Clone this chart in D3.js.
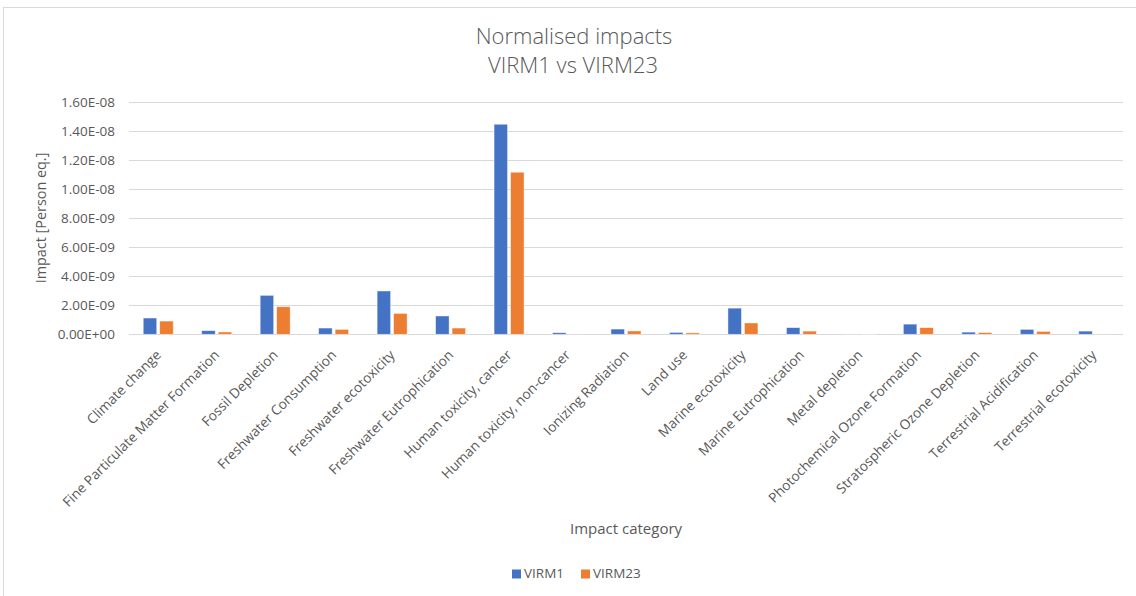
<!DOCTYPE html>
<html>
<head>
<meta charset="utf-8">
<script src="https://cdn.jsdelivr.net/npm/d3@7"></script>
<style>
  body { margin: 0; background: #fff; }
  text { font-family: "Open Sans", "Noto Sans", sans-serif; fill: #595959; }
</style>
</head>
<body>
<div id="chart"></div>
<script>
const categories = [
    'Climate change', 'Fine Particulate Matter Formation', 'Fossil Depletion',
    'Freshwater Consumption', 'Freshwater ecotoxicity', 'Freshwater Eutrophication',
    'Human toxicity, cancer', 'Human toxicity, non-cancer', 'Ionizing Radiation',
    'Land use', 'Marine ecotoxicity', 'Marine Eutrophication', 'Metal depletion',
    'Photochemical Ozone Formation', 'Stratospheric Ozone Depletion',
    'Terrestrial Acidification', 'Terrestrial ecotoxicity'
];
const seriesNames = ['VIRM1', 'VIRM23'];
const virm1 = [1.12e-9, 0.25e-9, 2.68e-9, 0.43e-9, 2.98e-9, 1.26e-9, 14.45e-9, 0.11e-9, 0.36e-9,
    0.13e-9, 1.80e-9, 0.46e-9, 0.01e-9, 0.70e-9, 0.15e-9, 0.34e-9, 0.22e-9];
const virm23 = [0.91e-9, 0.16e-9, 1.90e-9, 0.34e-9, 1.44e-9, 0.43e-9, 11.15e-9, 0.02e-9, 0.23e-9,
    0.10e-9, 0.78e-9, 0.22e-9, 0.005e-9, 0.46e-9, 0.12e-9, 0.20e-9, 0.02e-9];
const yTicks = [0, 2e-9, 4e-9, 6e-9, 8e-9, 1e-8, 1.2e-8, 1.4e-8, 1.6e-8];
const colors = ['#4472c4', '#ed7d31'];

const width = 1136, height = 596;
const plot = { left: 129, right: 1123, top: 101.7, bottom: 334.3 };

const svg = d3.select('#chart').append('svg')
    .attr('width', width)
    .attr('height', height);

// chart frame
svg.append('rect')
    .attr('x', 3.5).attr('y', 7.5)
    .attr('width', width + 10).attr('height', height + 10)
    .attr('fill', '#fff')
    .attr('stroke', '#d9d9d9');

const x0 = d3.scaleBand().domain(categories).range([plot.left, plot.right]);
const x1 = d3.scaleBand().domain(seriesNames)
    .range([(x0.bandwidth() - 30) / 2, (x0.bandwidth() + 30) / 2])
    .paddingInner(0.18);
const y = d3.scaleLinear().domain([0, 1.6e-8]).range([plot.bottom, plot.top]);

// gridlines
svg.append('g')
    .selectAll('line')
    .data(yTicks)
    .enter()
    .append('line')
        .attr('x1', plot.left)
        .attr('x2', plot.right)
        .attr('y1', d => Math.round(y(d)) + 0.5)
        .attr('y2', d => Math.round(y(d)) + 0.5)
        .attr('stroke', '#d9d9d9')
        .attr('stroke-width', 1);

// y axis labels
const fmt = v => {
    const s = v.toExponential(2).toUpperCase();
    return s.replace(/E([+-])(\d)$/, 'E$10$2');
};
const yAxis = d3.axisLeft(y).tickValues(yTicks).tickSize(0).tickPadding(14).tickFormat(fmt);
const yg = svg.append('g')
    .attr('transform', `translate(${plot.left},0)`)
    .call(yAxis);
yg.select('.domain').remove();
yg.selectAll('text')
    .style('font-size', '13.5px')
    .attr('fill', '#595959');

// bars
const rows = categories.map((c, i) => ({ cat: c, values: [virm1[i], virm23[i]] }));
const groups = svg.append('g')
    .selectAll('g')
    .data(rows)
    .enter()
    .append('g')
        .attr('transform', d => `translate(${x0(d.cat)},0)`);
groups.selectAll('rect')
    .data(d => d.values.map((v, j) => ({ key: seriesNames[j], value: v, j: j })))
    .enter()
    .append('rect')
        .attr('x', d => x1(d.key))
        .attr('y', d => y(d.value))
        .attr('width', x1.bandwidth())
        .attr('height', d => y(0) - y(d.value))
        .attr('fill', d => colors[d.j])
        .attr('stroke', '#ffffff')
        .attr('stroke-opacity', 0.6)
        .attr('stroke-width', 0.75);

// x labels
svg.append('g')
    .selectAll('text')
    .data(categories)
    .enter()
    .append('text')
        .attr('transform', d => `translate(${x0(d) + x0.bandwidth() / 2 + 1},${plot.bottom + 19}) rotate(-45)`)
        .attr('text-anchor', 'end')
        .attr('dominant-baseline', 'middle')
        .style('font-size', '13.7px')
        .text(d => d);

// titles
const title = svg.append('text')
    .attr('x', 574)
    .attr('text-anchor', 'middle')
    .style('font-size', '22px')
    .style('font-weight', 300);
title.append('tspan').attr('x', 574).attr('y', 44).text('Normalised impacts');
title.append('tspan').attr('x', 573).attr('y', 73).text('VIRM1 vs VIRM23');

svg.append('text')
    .attr('transform', `translate(46,${(plot.top + plot.bottom) / 2}) rotate(-90)`)
    .attr('text-anchor', 'middle')
    .style('font-size', '14.4px')
    .text('Impact [Person eq.]');

svg.append('text')
    .attr('x', (plot.left + plot.right) / 2)
    .attr('y', 534)
    .attr('text-anchor', 'middle')
    .style('font-size', '15px')
    .text('Impact category');

// legend
const legendPos = [512, 581];
const legend = svg.append('g')
    .selectAll('g')
    .data(seriesNames)
    .enter()
    .append('g')
        .attr('transform', (d, i) => `translate(${legendPos[i]},574)`);
legend.append('rect')
    .attr('x', 0).attr('y', -4.5)
    .attr('width', 9).attr('height', 9)
    .attr('fill', (d, i) => colors[i]);
legend.append('text')
    .attr('x', 12)
    .attr('dominant-baseline', 'middle')
    .style('font-size', '13.5px')
    .text(d => d);
</script>
</body>
</html>
